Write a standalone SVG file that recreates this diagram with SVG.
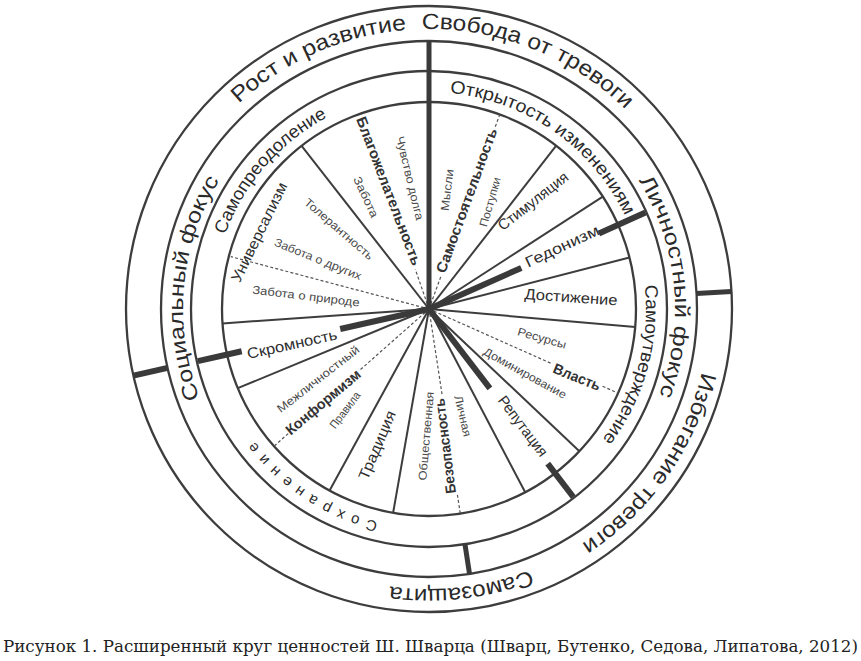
<svg xmlns="http://www.w3.org/2000/svg" width="861" height="661" viewBox="0 0 861 661">
<style>
.ring{fill:none;stroke:#3d3d3d;stroke-width:2.3}
.spoke{stroke:#3d3d3d;stroke-width:2;fill:none}
.thick{stroke:#3a3a3a;stroke-width:6;fill:none}
.thick2{stroke:#3a3a3a;stroke-width:5;fill:none}
.dash{stroke:#555;stroke-width:1.2;stroke-dasharray:3 2.2;fill:none}
.band{font-family:"Liberation Sans",Arial,sans-serif;fill:#2a2a2a}
.b1{font-size:22px}
.b2{font-size:21px}
.b3{font-size:18px}
.main{font-family:"Liberation Sans",Arial,sans-serif;font-size:15px;fill:#2e2e2e}
.bold{font-family:"Liberation Sans",Arial,sans-serif;font-size:14.5px;font-weight:bold;fill:#333}
.sub{font-family:"Liberation Sans",Arial,sans-serif;font-size:11.5px;fill:#4a4a4a}
.cap{font-family:"DejaVu Serif","Liberation Serif",serif;font-size:16.5px;fill:#222}
</style>
<defs>
<path id="pSamopr" d="M225.1 234.8 A217 217 0 0 1 327.1 117.4"/>
<path id="pOtkr" d="M449.8 93.0 A217 217 0 0 1 624.9 215.6"/>
<path id="pSamout" d="M644.7 285.2 A217 217 0 0 1 602.3 439.6"/>
<path id="pSohr" d="M377.9 522.0 A219 219 0 0 1 254.6 441.4"/>
<path id="pSoc" d="M199.7 398.0 A246 246 0 0 1 219.3 180.5"/>
<path id="pLich" d="M638.7 180.5 A246 246 0 0 1 659.4 395.1"/>
<path id="pRost" d="M238.8 103.6 A280 280 0 0 1 406.5 29.9"/>
<path id="pSvob" d="M421.7 29.1 A280 280 0 0 1 625.3 109.3"/>
<path id="pIzb" d="M701.8 372.0 A280 280 0 0 1 581.5 543.8"/>
<path id="pSamoz" d="M530.2 570.0 A280 280 0 0 1 390.0 586.3"/>
</defs>
<rect width="861" height="661" fill="#fff"/>
<g id="rings">
<circle class="ring" cx="429" cy="309" r="303"/>
<circle class="ring" cx="429" cy="309" r="268"/>
<circle class="ring" cx="429" cy="309" r="238"/>
<circle class="ring" cx="429" cy="309" r="207"/>
</g>
<g id="connectors">
<line class="spoke" x1="429" y1="309" x2="556.2" y2="145.7"/>
<line class="spoke" x1="429" y1="309" x2="602.8" y2="196.6"/>
<line class="spoke" x1="429" y1="309" x2="629.5" y2="257.5"/>
<line class="spoke" x1="429" y1="309" x2="635.2" y2="327.0"/>
<line class="spoke" x1="429" y1="309" x2="579.4" y2="451.2"/>
<line class="spoke" x1="429" y1="309" x2="525.2" y2="492.3"/>
<line class="spoke" x1="429" y1="309" x2="393.1" y2="512.9"/>
<line class="spoke" x1="429" y1="309" x2="329.6" y2="490.6"/>
<line class="spoke" x1="429" y1="309" x2="237.8" y2="388.2"/>
<line class="spoke" x1="429" y1="309" x2="222.5" y2="323.4"/>
<line class="spoke" x1="429" y1="309" x2="301.6" y2="145.9"/>
<line class="dash" x1="429" y1="309" x2="230.8" y2="256.6"/>
<line class="dash" x1="429" y1="309" x2="415.3" y2="269.3"/>
<line class="dash" x1="429" y1="309" x2="441.0" y2="276.1"/>
<line class="dash" x1="495.3" y1="126.7" x2="499.8" y2="114.5"/>
<line class="dash" x1="429" y1="309" x2="552.3" y2="363.9"/>
<line class="dash" x1="602.6" y1="386.3" x2="618.1" y2="393.2"/>
<line class="dash" x1="429" y1="309" x2="359.3" y2="370.6"/>
<line class="dash" x1="288.2" y1="433.6" x2="274.0" y2="446.2"/>
<line class="dash" x1="429" y1="309" x2="442.3" y2="396.0"/>
<line class="dash" x1="457.4" y1="494.8" x2="460.3" y2="513.6"/>
<line class="thick2" x1="429" y1="309" x2="429" y2="41"/>
<line class="thick" x1="429" y1="309" x2="521.3" y2="267.9"/>
<line class="thick" x1="598.9" y1="233.4" x2="645.5" y2="212.6"/>
<line class="thick" x1="429" y1="309" x2="489.9" y2="388.3"/>
<line class="thick" x1="547.7" y1="463.7" x2="573.3" y2="497.0"/>
<line class="thick" x1="429" y1="309" x2="340.2" y2="329.0"/>
<line class="thick" x1="241.7" y1="351.2" x2="197.8" y2="361.1"/>
<line class="thick" x1="167.6" y1="367.9" x2="133.4" y2="375.6"/>
<line class="thick2" x1="696.5" y1="293.6" x2="731.5" y2="291.5"/>
<line class="thick2" x1="465.0" y1="544.3" x2="469.5" y2="573.9"/>
</g>
<g id="node-outer-bands">
<text class="band b1"><textPath href="#pRost" textLength="186.7" lengthAdjust="spacingAndGlyphs">Рост и развитие</textPath></text>
<text class="band b1"><textPath href="#pSvob" textLength="224.8" lengthAdjust="spacingAndGlyphs">Свобода от тревоги</textPath></text>
<text class="band b1"><textPath href="#pIzb" textLength="215" lengthAdjust="spacingAndGlyphs">Избегание тревоги</textPath></text>
<text class="band b1"><textPath href="#pSamoz" textLength="142.7" lengthAdjust="spacingAndGlyphs">Самозащита</textPath></text>
</g>
<g id="node-focus">
<text class="band b2"><textPath href="#pSoc" textLength="226.3" lengthAdjust="spacingAndGlyphs">Социальный фокус</textPath></text>
<text class="band b2"><textPath href="#pLich" textLength="223.3" lengthAdjust="spacingAndGlyphs">Личностный фокус</textPath></text>
</g>
<g id="node-higher-order">
<text class="band b3"><textPath href="#pSamopr" textLength="159.1" lengthAdjust="spacingAndGlyphs">Самопреодоление</textPath></text>
<text class="band b3"><textPath href="#pOtkr" textLength="223.5" lengthAdjust="spacingAndGlyphs">Открытость изменениям</textPath></text>
<text class="band b3"><textPath href="#pSamout" textLength="164" lengthAdjust="spacingAndGlyphs">Самоутверждение</textPath></text>
<text class="band" style="font-size:15px"><textPath href="#pSohr" textLength="150" lengthAdjust="spacing">Сохранение</textPath></text>
</g>
<g id="node-benevolence">
<text class="bold" text-anchor="middle" dy="0.35em" transform="translate(389 191) rotate(69)" textLength="158" lengthAdjust="spacingAndGlyphs">Благожелательность</text>
<text class="sub" text-anchor="middle" dy="0.35em" transform="translate(366 197) rotate(65)" textLength="44" lengthAdjust="spacingAndGlyphs">Забота</text>
<text class="sub" text-anchor="middle" dy="0.35em" transform="translate(410 178) rotate(76.5)" textLength="86" lengthAdjust="spacingAndGlyphs">Чувство долга</text>
</g>
<g id="node-universalism">
<text class="main" text-anchor="middle" dy="0.35em" transform="translate(259 232) rotate(-64)" textLength="109" lengthAdjust="spacingAndGlyphs">Универсализм</text>
<text class="sub" text-anchor="middle" dy="0.35em" transform="translate(339 229) rotate(41)" textLength="87" lengthAdjust="spacingAndGlyphs">Толерантность</text>
<text class="sub" text-anchor="middle" dy="0.35em" transform="translate(318 259) rotate(22)" textLength="93" lengthAdjust="spacingAndGlyphs">Забота о других</text>
<text class="sub" text-anchor="middle" dy="0.35em" transform="translate(306 296) rotate(7)" textLength="108" lengthAdjust="spacingAndGlyphs">Забота о природе</text>
</g>
<g id="node-humility">
<text class="main" text-anchor="middle" dy="0.35em" transform="translate(292 344) rotate(-12.5)" textLength="92" lengthAdjust="spacingAndGlyphs">Скромность</text>
</g>
<g id="node-conformity">
<text class="sub" text-anchor="middle" dy="0.35em" transform="translate(318 379) rotate(-38)" textLength="101" lengthAdjust="spacingAndGlyphs">Межличностный</text>
<text class="bold" text-anchor="middle" dy="0.35em" transform="translate(323 402) rotate(-40)" textLength="93" lengthAdjust="spacingAndGlyphs">Конформизм</text>
<text class="sub" text-anchor="middle" dy="0.35em" transform="translate(345 410) rotate(-53)" textLength="43" lengthAdjust="spacingAndGlyphs">Правила</text>
</g>
<g id="node-tradition">
<text class="main" text-anchor="middle" dy="0.35em" transform="translate(377 445) rotate(-67)" textLength="73" lengthAdjust="spacingAndGlyphs">Традиция</text>
</g>
<g id="node-security">
<text class="sub" text-anchor="middle" dy="0.35em" transform="translate(426 436) rotate(-85)" textLength="89" lengthAdjust="spacingAndGlyphs">Общественная</text>
<text class="bold" text-anchor="middle" dy="0.35em" transform="translate(445 446) rotate(-97)" textLength="96" lengthAdjust="spacingAndGlyphs">Безопасность</text>
<text class="sub" text-anchor="middle" dy="0.35em" transform="translate(463 416) rotate(77)" textLength="42" lengthAdjust="spacingAndGlyphs">Личная</text>
</g>
<g id="node-reputation">
<text class="main" text-anchor="middle" dy="0.35em" transform="translate(523 426) rotate(53)" textLength="72" lengthAdjust="spacingAndGlyphs">Репутация</text>
</g>
<g id="node-power">
<text class="sub" text-anchor="middle" dy="0.35em" transform="translate(542 338) rotate(16)" textLength="50" lengthAdjust="spacingAndGlyphs">Ресурсы</text>
<text class="bold" text-anchor="middle" dy="0.35em" transform="translate(577 377) rotate(22)" textLength="50" lengthAdjust="spacingAndGlyphs">Власть</text>
<text class="sub" text-anchor="middle" dy="0.35em" transform="translate(525 373) rotate(29)" textLength="93" lengthAdjust="spacingAndGlyphs">Доминирование</text>
</g>
<g id="node-achievement">
<text class="main" text-anchor="middle" dy="0.35em" transform="translate(571 297) rotate(4)" textLength="93" lengthAdjust="spacingAndGlyphs">Достижение</text>
</g>
<g id="node-hedonism">
<text class="main" text-anchor="middle" dy="0.35em" transform="translate(562 246) rotate(-25)" textLength="80" lengthAdjust="spacingAndGlyphs">Гедонизм</text>
</g>
<g id="node-stimulation">
<text class="main" text-anchor="middle" dy="0.35em" transform="translate(533 201) rotate(-38)" textLength="85" lengthAdjust="spacingAndGlyphs">Стимуляция</text>
</g>
<g id="node-self-direction">
<text class="sub" text-anchor="middle" dy="0.35em" transform="translate(447 190) rotate(-83)" textLength="42" lengthAdjust="spacingAndGlyphs">Мысли</text>
<text class="bold" text-anchor="middle" dy="0.35em" transform="translate(466.5 200.5) rotate(-70)" textLength="153" lengthAdjust="spacingAndGlyphs">Самостоятельность</text>
<text class="sub" text-anchor="middle" dy="0.35em" transform="translate(490 202) rotate(-74)" textLength="51" lengthAdjust="spacingAndGlyphs">Поступки</text>
</g>
<g id="caption">
<text class="cap" x="3" y="652" textLength="855" lengthAdjust="spacingAndGlyphs">Рисунок 1. Расширенный круг ценностей Ш. Шварца (Шварц, Бутенко, Седова, Липатова, 2012)</text>
</g>
</svg>
